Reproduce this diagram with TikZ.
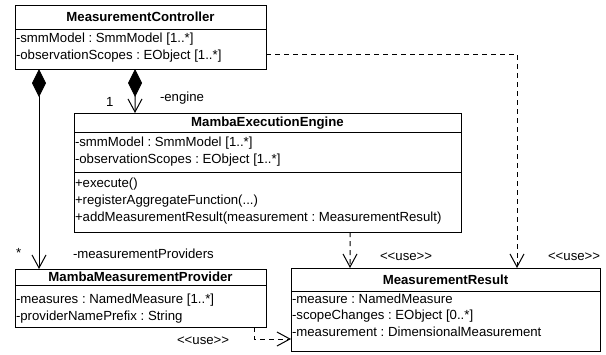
\documentclass[tikz,border=0pt]{standalone}
\usepackage{fontspec}
\setmainfont{Liberation Sans}
\usetikzlibrary{arrows.meta}

\tikzset{
  classbox/.style={draw, line width=1bp, rectangle, inner sep=0pt, outer sep=0pt, anchor=north west},
  txt/.style={inner sep=0pt, outer sep=0pt, font=\fontsize{13.2bp}{16bp}\selectfont\frenchspacing,
              text height=9.5bp, text depth=0pt},
  attr/.style={txt, anchor=west},
  cname/.style={txt, font=\fontsize{13.2bp}{16bp}\selectfont\bfseries},
  lbl/.style={txt, anchor=west},
  divider/.style={line width=1bp},
  compose/.style={line width=1bp,
    {Diamond[length=28bp,width=14bp,fill=black]}-{Straight Barb[length=13bp,width=14bp]}},
  usedep/.style={line width=1bp, dash pattern=on 5bp off 4bp,
    -{Straight Barb[length=13bp,width=14bp]}},
}

\begin{document}
\begin{tikzpicture}[x=1bp,y=-1bp]
  \useasboundingbox (0,0) rectangle (606,354);

  % ---------- MeasurementController ----------
  \node[classbox, minimum width=251bp, minimum height=64bp] (ctrl) at (15,5) {};
  \draw[divider] (15,29) -- (266,29);
  \node[cname] (ctrlT) at (140.5,17) {MeasurementController};
  \node[attr] (ctrlA1) at (16,38) {-smmModel : SmmModel [1..*]};
  \node[attr] (ctrlA2) at (16,55) {-observationScopes : EObject [1..*]};

  % ---------- MambaExecutionEngine ----------
  \node[classbox, minimum width=387bp, minimum height=119bp] (eng) at (74,113) {};
  \draw[divider] (74,132) -- (461,132);
  \draw[divider] (74,172) -- (461,172);
  \node[cname] (engT) at (267.5,122) {MambaExecutionEngine};
  \node[attr] (engA1) at (75,142) {-smmModel : SmmModel [1..*]};
  \node[attr] (engA2) at (75,159) {-observationScopes : EObject [1..*]};
  \node[attr] (engO1) at (75,183) {+execute()};
  \node[attr] (engO2) at (75,200) {+registerAggregateFunction(...)};
  \node[attr] (engO3) at (75,217) {+addMeasurementResult(measurement : MeasurementResult)};

  % ---------- MambaMeasurementProvider ----------
  \node[classbox, minimum width=251bp, minimum height=58bp] (prov) at (15,269) {};
  \draw[divider] (15,285) -- (266,285);
  \node[cname] (provT) at (140.5,277) {MambaMeasurementProvider};
  \node[attr] (provA1) at (16,299) {-measures : NamedMeasure [1..*]};
  \node[attr] (provA2) at (16,316) {-providerNamePrefix : String};

  % ---------- MeasurementResult ----------
  \node[classbox, minimum width=309bp, minimum height=83bp] (res) at (291,268) {};
  \draw[divider] (291,291) -- (600,291);
  \node[cname] (resT) at (445.5,280) {MeasurementResult};
  \node[attr] (resA1) at (292,299) {-measure : NamedMeasure};
  \node[attr] (resA2) at (292,315) {-scopeChanges : EObject [0..*]};
  \node[attr] (resA3) at (292,332) {-measurement : DimensionalMeasurement};

  % ---------- compositions ----------
  \draw[compose] ([xshift=24bp]ctrl.south west) -- ([xshift=24bp]prov.north west);
  \draw[compose] ([xshift=120bp]ctrl.south west) -- ([xshift=61bp]eng.north west);

  % ---------- usage dependencies ----------
  \draw[usedep] ([yshift=-17bp]ctrl.east) -| ([xshift=226bp]res.north west);
  \draw[usedep] ([xshift=276bp]eng.south west) -- ([xshift=59bp]res.north west);
  \draw[usedep] ([xshift=239bp]prov.south west) |- ([yshift=-29.5bp]res.west);

  % ---------- role names, multiplicities, stereotypes ----------
  \node[lbl] (mulEng) at (106,102) {1};
  \node[lbl] (roleEng) at (160,97) {-engine};
  \node[lbl] (mulProv) at (16,253) {*};
  \node[lbl] (roleProv) at (73,254) {-measurementProviders};
  \node[lbl] (use1) at (380,256) {<{}<use>{}>};
  \node[lbl] (use2) at (548,256) {<{}<use>{}>};
  \node[lbl] (use3) at (177,340) {<{}<use>{}>};
\end{tikzpicture}
\end{document}
